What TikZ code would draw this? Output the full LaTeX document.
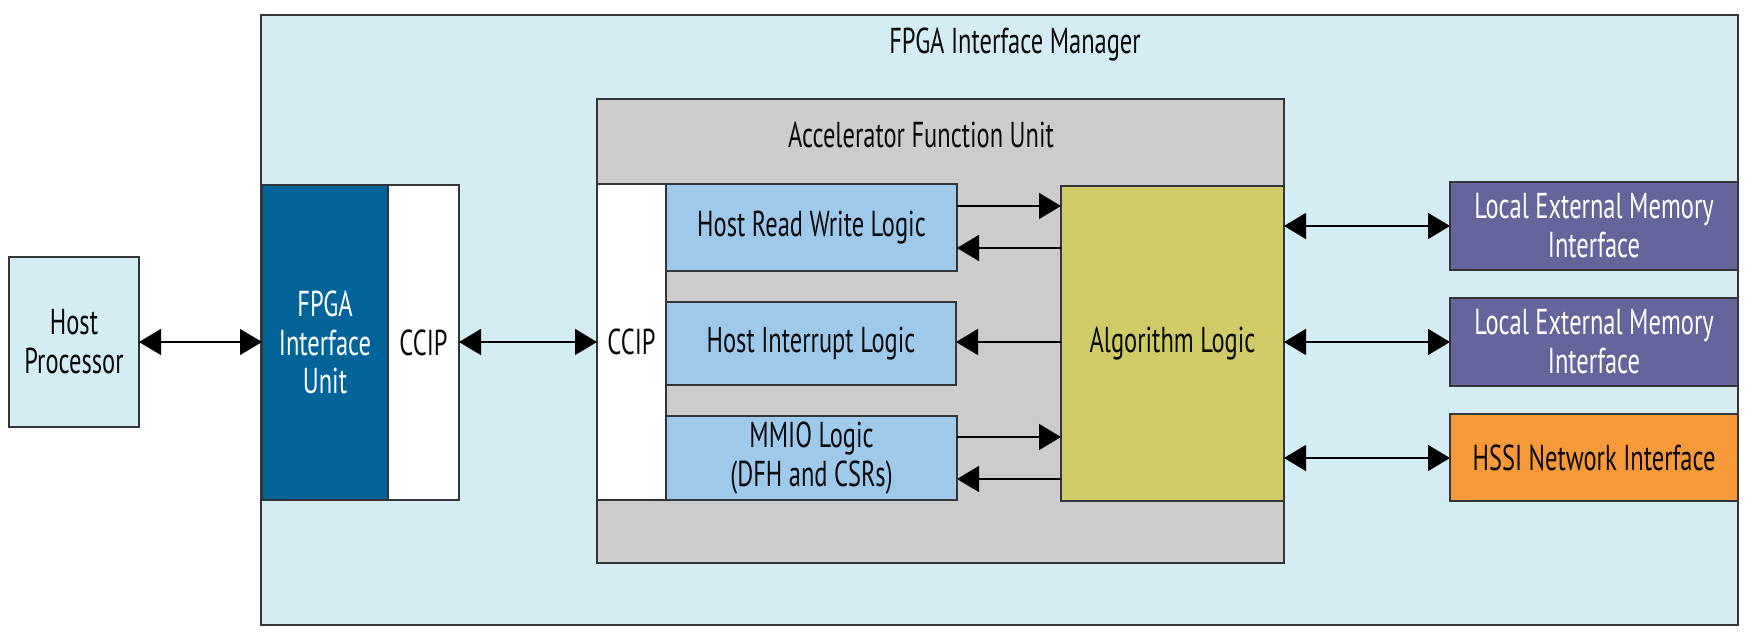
\documentclass[tikz,border=0pt]{standalone}
\usepackage{fontspec}
\setmainfont{PT Sans}[FakeStretch=0.68]
\usetikzlibrary{arrows.meta}
\definecolor{fimbg}{HTML}{D4ECF3}
\definecolor{fiublue}{HTML}{03649A}
\definecolor{afugray}{HTML}{CDCBCC}
\definecolor{logicblue}{HTML}{9FC9EA}
\definecolor{algoyel}{HTML}{CFCB66}
\definecolor{memblue}{HTML}{65649B}
\definecolor{hssiorange}{HTML}{F69A39}
\definecolor{edgegray}{HTML}{333638}
\definecolor{txtdark}{HTML}{0A0A0A}
\newcommand\mkbox[7]{\node[#6, minimum width={0.5pt*(#4-#2)}, minimum height={0.5pt*(#5-#3)}] (#1) at ({(#2+#4)/2},{(#3+#5)/2}) {#7};}
\begin{document}
\begin{tikzpicture}[x=0.5pt,y=-0.5pt,
  box/.style={draw=edgegray, line width=0.7pt, inner sep=0pt, outer sep=0pt, align=center,
    font=\fontsize{18}{19.4}\selectfont, text=txtdark},
  lbl/.style={inner sep=0pt, align=center, font=\fontsize{18}{19.4}\selectfont, text=txtdark},
  tip/.tip={Triangle[length=11pt,width=13pt]},
  onearrow/.style={-tip, line width=0.6pt, draw=black},
  biarrow/.style={tip-tip, line width=0.6pt, draw=black}]
\useasboundingbox (0,0) rectangle (1753,640);
% outer manager
\mkbox{fim}{261}{15}{1738}{625}{box, fill=fimbg}{}
\node[lbl] (fimtitle) at (1015,45) {FPGA Interface Manager};
% host
\mkbox{host}{9}{257}{139}{427}{box, fill=fimbg}{Host\\Processor}
% FIU
\mkbox{fiu}{262}{185}{388}{500}{box, fill=fiublue, text=white}{FPGA\\Interface\\Unit}
\mkbox{ccipa}{388}{185}{459}{500}{box, fill=white}{CCIP}
% AFU
\mkbox{afu}{597}{99}{1284}{563}{box, fill=afugray}{}
\node[lbl] (afutitle) at (921,135) {Accelerator Function Unit};
\mkbox{ccipb}{597}{184}{666}{500}{box, fill=white}{CCIP}
\mkbox{hrw}{666}{184}{957}{271}{box, fill=logicblue}{Host Read Write Logic}
\mkbox{hil}{666}{302}{956}{385}{box, fill=logicblue}{Host Interrupt Logic}
\mkbox{mmio}{666}{416}{957}{500}{box, fill=logicblue}{MMIO Logic\\(DFH and CSRs)}
\mkbox{algo}{1061}{186}{1284}{501}{box, fill=algoyel}{Algorithm Logic}
% right side
\mkbox{mem1}{1450}{182}{1738}{270}{box, fill=memblue, text=white}{Local External Memory\\Interface}
\mkbox{mem2}{1450}{298}{1738}{386}{box, fill=memblue, text=white}{Local External Memory\\Interface}
\mkbox{hssi}{1450}{414}{1738}{501}{box, fill=hssiorange}{HSSI Network Interface}
% connectors
\draw[biarrow] (host.east |- 0,342) -- (fiu.west |- 0,342);
\draw[biarrow] (ccipa.east |- 0,342) -- (ccipb.west |- 0,342);
\draw[onearrow] (hrw.east |- 0,206) -- (algo.west |- 0,206);
\draw[onearrow] (algo.west |- 0,248) -- (hrw.east |- 0,248);
\draw[onearrow] (algo.west |- 0,342) -- (hil.east |- 0,342);
\draw[onearrow] (mmio.east |- 0,437) -- (algo.west |- 0,437);
\draw[onearrow] (algo.west |- 0,479) -- (mmio.east |- 0,479);
\draw[biarrow] (algo.east |- 0,226) -- (mem1.west |- 0,226);
\draw[biarrow] (algo.east |- 0,342) -- (mem2.west |- 0,342);
\draw[biarrow] (algo.east |- 0,458) -- (hssi.west |- 0,458);
\end{tikzpicture}
\end{document}
